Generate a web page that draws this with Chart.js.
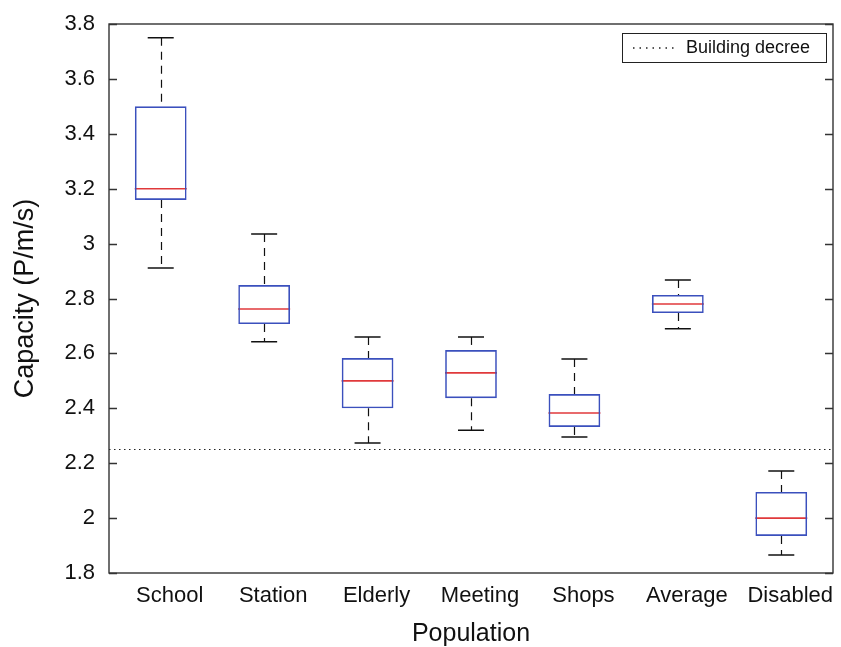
<!DOCTYPE html>
<html>
<head>
<meta charset="utf-8">
<script src="https://cdn.jsdelivr.net/npm/chart.js@4.4.1/dist/chart.umd.min.js"></script>
<style>
  html, body { margin: 0; padding: 0; background: #fff; }
  #wrap { width: 841px; height: 647px; }
</style>
</head>
<body>
<div id="wrap"><canvas id="boxChart" width="841" height="647"></canvas></div>
<script>
// values
const populations = ['School', 'Station', 'Elderly', 'Meeting', 'Shops', 'Average', 'Disabled'];
const whiskerHigh = [3.75, 3.035, 2.66, 2.66, 2.58, 2.867, 2.172];
const upperQuartile = [3.50, 2.849, 2.583, 2.612, 2.452, 2.813, 2.095];
const medians = [3.20, 2.762, 2.50, 2.529, 2.383, 2.78, 2.00];
const lowerQuartile = [3.159, 2.707, 2.40, 2.437, 2.332, 2.747, 1.935];
const whiskerLow = [2.911, 2.642, 2.274, 2.32, 2.295, 2.69, 1.866];
const buildingDecree = 2.25;
const yTicks = { min: 1.8, max: 3.8, step: 0.2 };

const FONT = "'Liberation Sans', Arial, Helvetica, sans-serif";
const TEXT = '#111111';
const FRAME = '#333333';

const boxes = populations.map((p, i) => [lowerQuartile[i], upperQuartile[i]]);

// whiskers, reference line, frame, ticks and legend
const boxExtras = {
    id: 'boxExtras',
    afterDatasetsDraw(chart) {
        const ctx = chart.ctx;
        const x = chart.scales.x;
        const y = chart.scales.y;
        const area = chart.chartArea;
        ctx.save();

        // dashed whiskers
        ctx.strokeStyle = '#111';
        ctx.lineWidth = 1.2;
        ctx.setLineDash([8, 6]);
        populations.forEach((p, i) => {
            const px = Math.round(x.getPixelForValue(i)) + 0.5;
            ctx.beginPath();
            ctx.moveTo(px, y.getPixelForValue(whiskerHigh[i]));
            ctx.lineTo(px, y.getPixelForValue(upperQuartile[i]));
            ctx.stroke();
            ctx.beginPath();
            ctx.moveTo(px, y.getPixelForValue(lowerQuartile[i]));
            ctx.lineTo(px, y.getPixelForValue(whiskerLow[i]));
            ctx.stroke();
        });

        // building decree line
        ctx.setLineDash([1.5, 3.5]);
        ctx.lineWidth = 1.2;
        ctx.strokeStyle = '#222';
        const ry = Math.round(y.getPixelForValue(buildingDecree)) + 0.5;
        ctx.beginPath();
        ctx.moveTo(area.left, ry);
        ctx.lineTo(area.right, ry);
        ctx.stroke();
        ctx.setLineDash([]);

        // frame + inward ticks on both sides
        ctx.strokeStyle = FRAME;
        ctx.lineWidth = 1.4;
        ctx.strokeRect(area.left, area.top, area.right - area.left, area.bottom - area.top);
        y.ticks.forEach(t => {
            const ty = Math.round(y.getPixelForValue(t.value)) + 0.5;
            ctx.beginPath();
            ctx.moveTo(area.left, ty);
            ctx.lineTo(area.left + 8, ty);
            ctx.moveTo(area.right, ty);
            ctx.lineTo(area.right - 8, ty);
            ctx.stroke();
        });

        // legend
        const lx = 622, ly = 33, lw = 204, lh = 29;
        ctx.fillStyle = '#fff';
        ctx.fillRect(lx, ly, lw, lh);
        ctx.strokeStyle = '#222';
        ctx.lineWidth = 1;
        ctx.strokeRect(lx + 0.5, ly + 0.5, lw, lh);
        ctx.setLineDash([1.5, 5]);
        ctx.lineWidth = 1.3;
        ctx.beginPath();
        ctx.moveTo(633, ly + lh / 2 + 0.5);
        ctx.lineTo(678, ly + lh / 2 + 0.5);
        ctx.stroke();
        ctx.setLineDash([]);
        ctx.fillStyle = TEXT;
        ctx.font = '18px ' + FONT;
        ctx.textBaseline = 'middle';
        ctx.textAlign = 'left';
        ctx.fillText('Building decree', 686, ly + lh / 2 + 1);

        ctx.restore();
    }
};

const ctx = document.getElementById('boxChart').getContext('2d');
new Chart(ctx, {
    type: 'bar',
    data: {
        labels: populations,
        datasets: [
            {
                label: 'Box',
                data: boxes,
                backgroundColor: 'rgba(0,0,0,0)',
                borderColor: '#3b50bd',
                borderWidth: 1.6,
                borderSkipped: false,
                barPercentage: 0.5,
                categoryPercentage: 1.0
            },
            {
                type: 'line',
                label: 'Median',
                data: medians,
                showLine: false,
                pointStyle: 'line',
                pointRadius: 26,
                pointBorderColor: '#e0393b',
                pointBorderWidth: 1.6
            },
            {
                type: 'line',
                label: 'Upper whisker',
                data: whiskerHigh,
                showLine: false,
                pointStyle: 'line',
                pointRadius: 13,
                pointBorderColor: '#111',
                pointBorderWidth: 1.5
            },
            {
                type: 'line',
                label: 'Lower whisker',
                data: whiskerLow,
                showLine: false,
                pointStyle: 'line',
                pointRadius: 13,
                pointBorderColor: '#111',
                pointBorderWidth: 1.5
            }
        ]
    },
    options: {
        responsive: false,
        animation: false,
        events: [],
        layout: { autoPadding: false, padding: { left: 0, right: 8, top: 24, bottom: 0 } },
        plugins: {
            legend: { display: false },
            tooltip: { enabled: false }
        },
        scales: {
            x: {
                offset: true,
                grid: { display: false, drawTicks: false },
                border: { display: false },
                ticks: {
                    color: TEXT,
                    font: { family: FONT, size: 22 },
                    padding: 10,
                    labelOffset: 9,
                    maxRotation: 0,
                    autoSkip: false
                },
                title: {
                    display: true,
                    text: 'Population',
                    color: TEXT,
                    font: { family: FONT, size: 25, lineHeight: 1 },
                    padding: { top: 0, bottom: 0 }
                },
                afterFit: s => {
                    s.height = 74;
                    s.paddingLeft = 0;
                    s.paddingRight = 0;
                }
            },
            y: {
                min: yTicks.min,
                max: yTicks.max,
                grid: { display: false, drawTicks: false },
                border: { display: false },
                ticks: {
                    stepSize: yTicks.step,
                    color: TEXT,
                    font: { family: FONT, size: 22 },
                    padding: 14,
                    callback: v => String(parseFloat(Number(v).toFixed(1)))
                },
                title: {
                    display: true,
                    text: 'Capacity (P/m/s)',
                    color: TEXT,
                    font: { family: FONT, size: 27, lineHeight: 1 },
                    padding: { top: 12, bottom: 0 }
                },
                afterFit: s => {
                    s.width = 109;
                    s.paddingTop = 0;
                    s.paddingBottom = 0;
                }
            }
        }
    },
    plugins: [boxExtras]
});
</script>
</body>
</html>
